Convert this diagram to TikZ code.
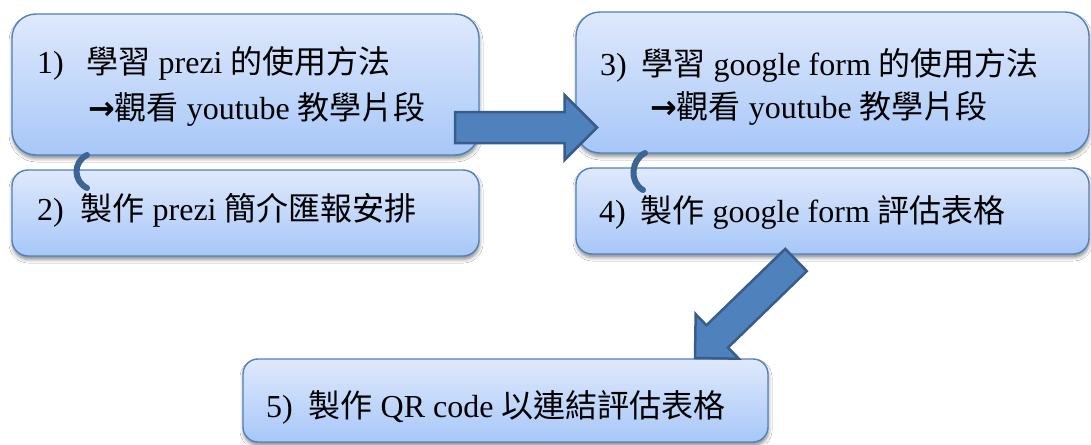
\documentclass[tikz,border=0pt]{standalone}
\usepackage{fontspec}
\setmainfont{Liberation Serif}
\newfontfamily\cjk{Noto Sans CJK TC}
\newfontfamily\symf{DejaVu Sans}
\usetikzlibrary{calc,shadows.blur}
\definecolor{boxtop}{RGB}{223,233,252}
\definecolor{boxbot}{RGB}{167,199,248}
\definecolor{boxline}{RGB}{79,129,189}
\definecolor{arrfill}{RGB}{79,129,189}
\definecolor{arrline}{RGB}{56,93,138}
\definecolor{linkc}{RGB}{61,101,148}
\tikzset{
  box/.style={draw=boxline, line width=1.4pt, top color=boxtop, bottom color=boxbot,
    anchor=north west, inner sep=0pt, outer sep=0pt,
    blur shadow={shadow xshift=0.5pt, shadow yshift=-3.5pt, shadow blur radius=3.5pt, shadow opacity=45}},
  txt/.style={anchor=base west, inner sep=0pt, outer sep=0pt, font=\fontsize{32pt}{40pt}\selectfont},
  barrow/.style={fill=arrfill, draw=arrline, line width=2.5pt, line join=miter},
  link/.style={draw=linkc, line width=6pt, line cap=round},
}
\newcommand\blockarrow[4]{%
  \coordinate (ba-m) at ($(#2)!#4!(#1)$);
  \filldraw[barrow] ($(#1)!#3!90:(#2)$) -- ($(ba-m)!#3!-90:(#1)$) -- ($(ba-m)!#4!-90:(#1)$) -- (#2)
    -- ($(ba-m)!#4!90:(#1)$) -- ($(ba-m)!#3!90:(#1)$) -- ($(#1)!#3!-90:(#2)$) -- cycle;
}
\begin{document}
\begin{tikzpicture}[x=1pt, y=-1pt]
\fill[white] (0,0) rectangle (1091,444);
\useasboundingbox (0,0) rectangle (1091,444);
% boxes
\node[box, minimum width=467pt, minimum height=141pt, rounded corners=24pt] (b1) at (12,14) {};
\node[box, minimum width=467pt, minimum height=86pt, rounded corners=16pt] (b2) at (12,170) {};
\node[box, minimum width=513pt, minimum height=141pt, rounded corners=24pt] (b3) at (576,12) {};
\node[box, minimum width=513pt, minimum height=86pt, rounded corners=16pt] (b4) at (576,168) {};
\node[box, minimum width=525pt, minimum height=83pt, rounded corners=15pt] (b5) at (243,359) {};
% texts
\node[txt] (t1a) at (37,74) {1)\hspace{23pt}{\cjk 學習} prezi {\cjk 的使用方法}};
\node[txt] (t1b) at (88,119) {{\symf\bfseries →}{\cjk 觀看} youtube {\cjk 教學片段}};
\node[txt] (t2) at (37,220) {2)\hspace{17pt}{\cjk 製作} prezi {\cjk 簡介匯報安排}};
\node[txt] (t3a) at (600,75) {3)\hspace{15pt}{\cjk 學習} google form {\cjk 的使用方法}};
\node[txt] (t3b) at (650,118) {{\symf\bfseries →}{\cjk 觀看} youtube {\cjk 教學片段}};
\node[txt] (t4) at (599,222) {4)\hspace{15pt}{\cjk 製作} google form {\cjk 評估表格}};
\node[txt] (t5) at (266,417) {5)\hspace{16pt}{\cjk 製作} QR code {\cjk 以連結評估表格}};
% small links
\draw[link] ([xshift=75pt]b1.south west) .. controls +(-14pt,-7pt) and +(-14pt,7pt) .. ([xshift=75pt,yshift=-18pt]b2.north west);
\draw[link] ([xshift=69pt]b3.south west) .. controls +(-14pt,-7pt) and +(-14pt,8pt) .. ([xshift=67pt,yshift=-22pt]b4.north west);
% block arrows
\coordinate (a1s) at (455,127.5);
\coordinate (a1e) at (597,127.5);
\blockarrow{a1s}{a1e}{15.5pt}{32.5pt}
\coordinate (a2s) at (796,260);
\coordinate (a2e) at (695,358);
\blockarrow{a2s}{a2e}{15.5pt}{31pt}
\end{tikzpicture}
\end{document}
